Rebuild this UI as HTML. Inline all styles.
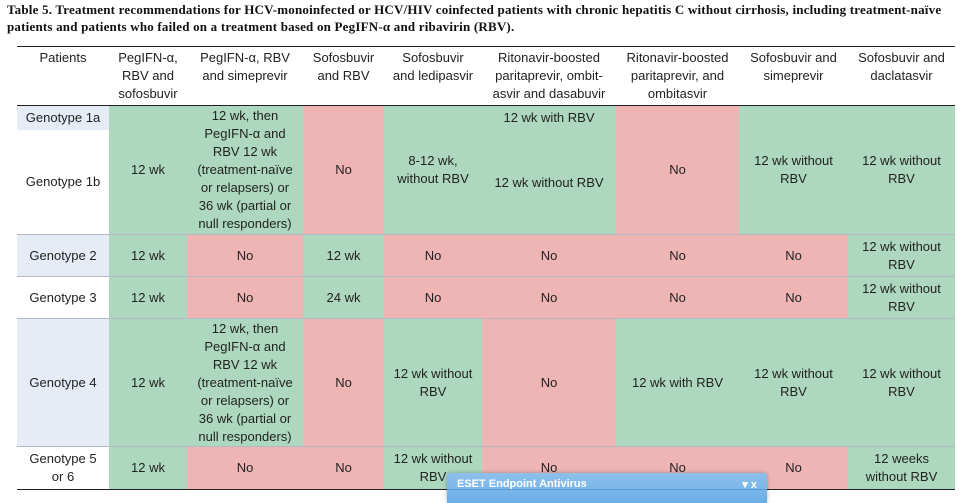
<!DOCTYPE html>
<html><head><meta charset="utf-8"><style>
body{margin:0;width:970px;height:497px;background:#fff;position:relative;overflow:hidden;font-family:"Liberation Sans",sans-serif;font-size:13px;color:#222}
.t{position:absolute;left:7px;font-family:"Liberation Serif",serif;font-weight:bold;font-size:13px;color:#111;letter-spacing:0.2px;white-space:nowrap}
.c{position:absolute;display:flex;align-items:center;justify-content:center;text-align:center;line-height:18px}
.g{background:#add8bf}.p{background:#efb5b5}.b{background:#e6ecf6}
.hl{position:absolute;left:17px;width:938px;height:1px;background:#b4b8c4}
</style></head><body>
<div class="t" style="top:2px">Table 5. Treatment recommendations for HCV-monoinfected or HCV/HIV coinfected patients with chronic hepatitis C without cirrhosis, including treatment-naïve</div>
<div class="t" style="top:19px">patients and patients who failed on a treatment based on PegIFN-α and ribavirin (RBV).</div>
<div style="position:absolute;left:17px;top:46px;width:938px;height:1px;background:#222"></div>
<div class="c" style="left:17px;top:47px;width:92px;height:20px;align-items:flex-start;padding-top:2px">Patients</div>
<div class="c" style="left:109px;top:49px;width:78px;height:56px;align-items:flex-start">PegIFN-α,<br>RBV and<br>sofosbuvir</div>
<div class="c" style="left:187px;top:49px;width:116px;align-items:flex-start">PegIFN-α, RBV<br>and simeprevir</div>
<div class="c" style="left:303px;top:49px;width:81px;align-items:flex-start">Sofosbuvir<br>and RBV</div>
<div class="c" style="left:384px;top:49px;width:98px;align-items:flex-start">Sofosbuvir<br>and ledipasvir</div>
<div class="c" style="left:482px;top:49px;width:134px;align-items:flex-start">Ritonavir-boosted<br>paritaprevir, ombit-<br>asvir and dasabuvir</div>
<div class="c" style="left:616px;top:49px;width:123px;align-items:flex-start">Ritonavir-boosted<br>paritaprevir, and<br>ombitasvir</div>
<div class="c" style="left:739px;top:49px;width:109px;align-items:flex-start">Sofosbuvir and<br>simeprevir</div>
<div class="c" style="left:848px;top:49px;width:107px;align-items:flex-start">Sofosbuvir and<br>daclatasvir</div>
<div style="position:absolute;left:17px;top:105px;width:938px;height:1px;background:#222"></div>
<!-- row 1 -->
<div class="c b" style="left:17px;top:106px;width:92px;height:24px">Genotype 1a</div>
<div class="c" style="left:17px;top:130px;width:92px;height:104px">Genotype 1b</div>
<div class="c g" style="left:109px;top:106px;width:78px;height:128px">12 wk</div>
<div class="c g" style="left:187px;top:106px;width:116px;height:128px">12 wk, then<br>PegIFN-α and<br>RBV 12 wk<br>(treatment-naïve<br>or relapsers) or<br>36 wk (partial or<br>null responders)</div>
<div class="c p" style="left:303px;top:106px;width:81px;height:128px">No</div>
<div class="c g" style="left:384px;top:106px;width:98px;height:128px">8-12 wk,<br>without RBV</div>
<div class="c g" style="left:482px;top:106px;width:134px;height:128px"></div>
<div class="c" style="left:482px;top:109px;width:134px;height:18px">12 wk with RBV</div>
<div class="c" style="left:482px;top:174px;width:134px;height:18px">12 wk without RBV</div>
<div class="c p" style="left:616px;top:106px;width:123px;height:128px">No</div>
<div class="c g" style="left:739px;top:106px;width:109px;height:128px">12 wk without<br>RBV</div>
<div class="c g" style="left:848px;top:106px;width:107px;height:128px">12 wk without<br>RBV</div>
<div class="hl" style="top:234px"></div>
<!-- row 2 -->
<div class="c b" style="left:17px;top:235px;width:92px;height:41px">Genotype 2</div>
<div class="c g" style="left:109px;top:235px;width:78px;height:41px">12 wk</div>
<div class="c p" style="left:187px;top:235px;width:116px;height:41px">No</div>
<div class="c g" style="left:303px;top:235px;width:81px;height:41px">12 wk</div>
<div class="c p" style="left:384px;top:235px;width:98px;height:41px">No</div>
<div class="c p" style="left:482px;top:235px;width:134px;height:41px">No</div>
<div class="c p" style="left:616px;top:235px;width:123px;height:41px">No</div>
<div class="c p" style="left:739px;top:235px;width:109px;height:41px">No</div>
<div class="c g" style="left:848px;top:235px;width:107px;height:41px">12 wk without<br>RBV</div>
<div class="hl" style="top:276px"></div>
<!-- row 3 -->
<div class="c" style="left:17px;top:277px;width:92px;height:41px">Genotype 3</div>
<div class="c g" style="left:109px;top:277px;width:78px;height:41px">12 wk</div>
<div class="c p" style="left:187px;top:277px;width:116px;height:41px">No</div>
<div class="c g" style="left:303px;top:277px;width:81px;height:41px">24 wk</div>
<div class="c p" style="left:384px;top:277px;width:98px;height:41px">No</div>
<div class="c p" style="left:482px;top:277px;width:134px;height:41px">No</div>
<div class="c p" style="left:616px;top:277px;width:123px;height:41px">No</div>
<div class="c p" style="left:739px;top:277px;width:109px;height:41px">No</div>
<div class="c g" style="left:848px;top:277px;width:107px;height:41px">12 wk without<br>RBV</div>
<div class="hl" style="top:318px"></div>
<!-- row 4 -->
<div class="c b" style="left:17px;top:319px;width:92px;height:127px">Genotype 4</div>
<div class="c g" style="left:109px;top:319px;width:78px;height:127px">12 wk</div>
<div class="c g" style="left:187px;top:319px;width:116px;height:127px">12 wk, then<br>PegIFN-α and<br>RBV 12 wk<br>(treatment-naïve<br>or relapsers) or<br>36 wk (partial or<br>null responders)</div>
<div class="c p" style="left:303px;top:319px;width:81px;height:127px">No</div>
<div class="c g" style="left:384px;top:319px;width:98px;height:127px">12 wk without<br>RBV</div>
<div class="c p" style="left:482px;top:319px;width:134px;height:127px">No</div>
<div class="c g" style="left:616px;top:319px;width:123px;height:127px">12 wk with RBV</div>
<div class="c g" style="left:739px;top:319px;width:109px;height:127px">12 wk without<br>RBV</div>
<div class="c g" style="left:848px;top:319px;width:107px;height:127px">12 wk without<br>RBV</div>
<div class="hl" style="top:446px"></div>
<!-- row 5 -->
<div class="c" style="left:17px;top:447px;width:92px;height:42px">Genotype 5<br>or 6</div>
<div class="c g" style="left:109px;top:447px;width:78px;height:42px">12 wk</div>
<div class="c p" style="left:187px;top:447px;width:116px;height:42px">No</div>
<div class="c p" style="left:303px;top:447px;width:81px;height:42px">No</div>
<div class="c g" style="left:384px;top:447px;width:98px;height:42px">12 wk without<br>RBV</div>
<div class="c p" style="left:482px;top:447px;width:134px;height:42px">No</div>
<div class="c p" style="left:616px;top:447px;width:123px;height:42px">No</div>
<div class="c p" style="left:739px;top:447px;width:109px;height:42px">No</div>
<div class="c g" style="left:848px;top:447px;width:107px;height:42px">12 weeks<br>without RBV</div>
<div style="position:absolute;left:17px;top:489px;width:938px;height:1px;background:#222"></div>
<!-- ESET popup -->
<div style="position:absolute;left:447px;top:473px;width:320px;height:30px;background:linear-gradient(#8fc0ea,#6aaee8);border-radius:3px 3px 0 0;box-shadow:0 0 4px rgba(0,0,0,.3)">
<div style="position:absolute;left:10px;top:5px;color:#fff;font-weight:bold;font-size:11px">ESET Endpoint Antivirus</div>
<div style="position:absolute;right:10px;top:5px;color:#fff;font-weight:bold;font-size:11px">▾ x</div>
<div style="position:absolute;left:0;top:16px;width:320px;height:1px;background:#5a9ad6"></div>
</div>
</body></html>
